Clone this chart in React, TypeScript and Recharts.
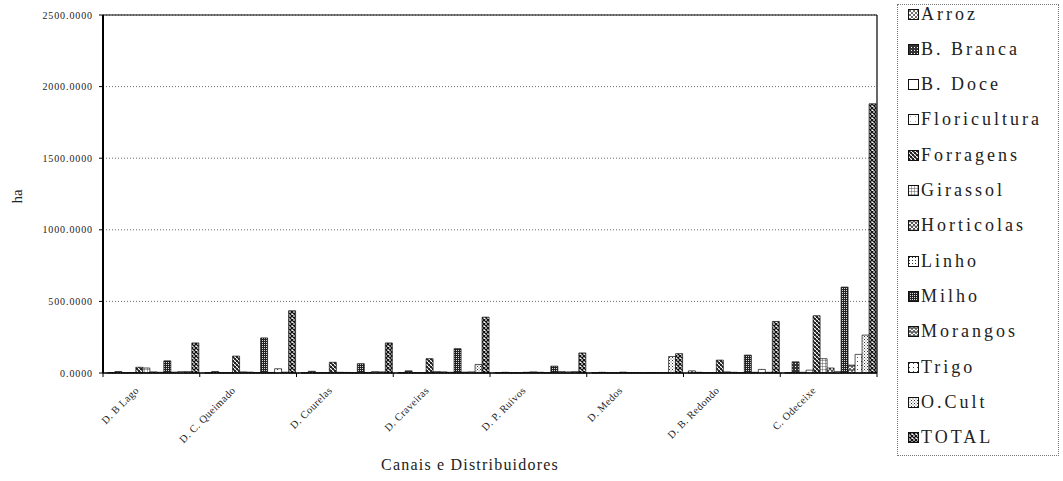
import React from 'react';
import { BarChart, Bar, XAxis, YAxis, CartesianGrid } from 'recharts';

// Canais e distribuidores (eixo X)
const categories = [
  'D. B Lago',
  'D. C. Queimado',
  'D. Courelas',
  'D. Craveiras',
  'D. P. Ruivos',
  'D. Medos',
  'D. B. Redondo',
  'C. Odeceixe',
];

// área (ha) por cultura, na ordem das categorias
const arroz = [3, 2, 2, 3, 2, 2, 15, 2];
const bBranca = [10, 10, 12, 15, 5, 5, 5, 78];
const bDoce = [2, 2, 2, 2, 2, 2, 3, 5];
const floricultura = [3, 2, 2, 2, 2, 1, 3, 20];
const forragens = [40, 118, 75, 100, 5, 6, 90, 400];
const girassol = [35, 8, 5, 10, 8, 3, 8, 100];
const horticolas = [8, 6, 4, 8, 5, 2, 5, 35];
const linho = [5, 3, 3, 5, 2, 1, 3, 10];
const milho = [85, 245, 65, 170, 48, 3, 125, 600];
const morangos = [6, 4, 3, 6, 10, 2, 5, 55];
const trigo = [10, 30, 10, 8, 8, 3, 25, 130];
const oCult = [10, 6, 8, 60, 10, 115, 5, 265];
const total = [210, 435, 210, 390, 140, 135, 360, 1880];

const seriesNames = [
  'Arroz', 'B. Branca', 'B. Doce', 'Floricultura', 'Forragens', 'Girassol',
  'Horticolas', 'Linho', 'Milho', 'Morangos', 'Trigo', 'O.Cult', 'TOTAL',
];
const seriesValues = [
  arroz, bBranca, bDoce, floricultura, forragens, girassol,
  horticolas, linho, milho, morangos, trigo, oCult, total,
];

const yTicks = [0, 500, 1000, 1500, 2000, 2500];

const data = categories.map((name, i) => {
  const row: Record<string, string | number> = { name };
  seriesValues.forEach((vals, s) => {
    row['s' + s] = vals[i];
  });
  return row;
});

const FONT = '"Liberation Serif", "DejaVu Serif", serif';
const PLOT_BOTTOM = 373;
const BAND = (877 - 103) / categories.length;

// padrões a preto e branco das barras
const PatternDefs = () => (
  <svg width={0} height={0} style={{ position: 'absolute' }}>
    <defs>
      <pattern id="pat0" width="4" height="4" patternUnits="userSpaceOnUse">
        <rect width="4" height="4" fill="#fff" />
        <path d="M0,0 L4,4 M4,0 L0,4" stroke="#333" strokeWidth="0.7" />
      </pattern>
      <pattern id="pat1" width="3" height="3" patternUnits="userSpaceOnUse">
        <rect width="3" height="3" fill="#333" />
        <rect x="0" y="0" width="1" height="1" fill="#fff" />
      </pattern>
      <pattern id="pat2" width="4" height="4" patternUnits="userSpaceOnUse">
        <rect width="4" height="4" fill="#fff" />
      </pattern>
      <pattern id="pat3" width="5" height="5" patternUnits="userSpaceOnUse">
        <rect width="5" height="5" fill="#fff" />
        <rect x="2" y="2" width="0.8" height="0.8" fill="#777" />
      </pattern>
      <pattern id="pat4" width="4" height="4" patternUnits="userSpaceOnUse">
        <rect width="4" height="4" fill="#fff" />
        <rect x="0" y="0" width="2" height="2" fill="#222" />
        <rect x="2" y="2" width="2" height="2" fill="#222" />
        <path d="M0,4 L4,0" stroke="#222" strokeWidth="0.6" />
      </pattern>
      <pattern id="pat5" width="3" height="3" patternUnits="userSpaceOnUse">
        <rect width="3" height="3" fill="#fff" />
        <path d="M0,0 H3 M0,0 V3" stroke="#333" strokeWidth="0.8" />
      </pattern>
      <pattern id="pat6" width="4" height="4" patternUnits="userSpaceOnUse">
        <rect width="4" height="4" fill="#fff" />
        <path d="M0,4 L2,0 L4,4" stroke="#222" strokeWidth="1" fill="none" />
      </pattern>
      <pattern id="pat7" width="3" height="3" patternUnits="userSpaceOnUse">
        <rect width="3" height="3" fill="#fff" />
        <rect x="1" y="1" width="1" height="1" fill="#333" />
      </pattern>
      <pattern id="pat8" width="2" height="2" patternUnits="userSpaceOnUse">
        <rect width="2" height="2" fill="#222" />
        <rect x="0" y="0" width="1" height="1" fill="#ddd" />
      </pattern>
      <pattern id="pat9" width="4" height="4" patternUnits="userSpaceOnUse">
        <rect width="4" height="4" fill="#fff" />
        <path d="M0,4 L2,0 L4,4 M0,2 H4" stroke="#222" strokeWidth="0.8" fill="none" />
      </pattern>
      <pattern id="pat10" width="4" height="4" patternUnits="userSpaceOnUse">
        <rect width="4" height="4" fill="#fff" />
        <rect x="1" y="1" width="1" height="1" fill="#444" />
      </pattern>
      <pattern id="pat11" width="3" height="3" patternUnits="userSpaceOnUse">
        <rect width="3" height="3" fill="#fff" />
        <rect x="0" y="0" width="1" height="1" fill="#333" />
        <rect x="1.5" y="1.5" width="1" height="1" fill="#666" />
      </pattern>
      <pattern id="pat12" width="4" height="4" patternUnits="userSpaceOnUse">
        <rect width="4" height="4" fill="#fff" />
        <path d="M0,0 L4,4 M4,0 L0,4" stroke="#111" strokeWidth="1.3" />
      </pattern>
    </defs>
  </svg>
);

const CategoryTick = (props: any) => {
  const { x, payload, index } = props;
  const tx = x - 12;
  const ty = PLOT_BOTTOM + 18;
  return (
    <g>
      <line x1={x - BAND / 2} y1={PLOT_BOTTOM} x2={x - BAND / 2} y2={PLOT_BOTTOM + 4} stroke="#000" />
      {index === categories.length - 1 && (
        <line x1={x + BAND / 2} y1={PLOT_BOTTOM} x2={x + BAND / 2} y2={PLOT_BOTTOM + 4} stroke="#000" />
      )}
      <text
        x={tx}
        y={ty}
        textAnchor="end"
        transform={`rotate(-45 ${tx} ${ty})`}
        fontSize={10.5}
        fontFamily={FONT}
        letterSpacing={0.4}
        fill="#222"
      >
        {payload.value}
      </text>
    </g>
  );
};

const LegendBox = () => (
  <div
    style={{
      position: 'absolute',
      left: 897,
      top: 4,
      width: 162,
      height: 452,
      border: '1px dotted #777',
      boxSizing: 'border-box',
      fontFamily: FONT,
    }}
  >
    {seriesNames.map((name, i) => (
      <div
        key={name}
        style={{
          position: 'absolute',
          left: 10,
          top: 13 + i * 35.33 - 4 - 11,
          height: 22,
          display: 'flex',
          alignItems: 'center',
          whiteSpace: 'nowrap',
        }}
      >
        <svg width={11} height={11} style={{ marginRight: 2 }}>
          <rect x={0.5} y={0.5} width={10} height={10} fill={`url(#pat${i})`} stroke="#111" />
        </svg>
        <span style={{ fontSize: 18, letterSpacing: 3, color: '#222' }}>{name}</span>
      </div>
    ))}
  </div>
);

const App = () => {
  return (
    <div style={{ position: 'absolute', left: 0, top: 0, width: 1063, height: 481, background: '#fff', fontFamily: FONT }}>
      <PatternDefs />
      <BarChart
        width={1063}
        height={481}
        data={data}
        margin={{ top: 15, right: 186, bottom: 48, left: 0 }}
        barCategoryGap="5%"
        barGap={0}
      >
        <CartesianGrid vertical={false} stroke="#444" strokeDasharray="1 2" strokeWidth={0.8} />
        <CartesianGrid horizontalPoints={[15]} verticalPoints={[877]} stroke="#000" strokeWidth={1.2} />
        <XAxis
          dataKey="name"
          height={60}
          interval={0}
          tickLine={false}
          axisLine={{ stroke: '#000', strokeWidth: 1.5 }}
          tick={<CategoryTick />}
        />
        <YAxis
          width={103}
          domain={[0, 2500]}
          ticks={yTicks}
          tickFormatter={(v: number) => v.toFixed(4)}
          tick={{ fontSize: 10, fontFamily: FONT, fill: '#222', letterSpacing: 0.9 }}
          tickSize={4}
          tickMargin={6}
          tickLine={{ stroke: '#000' }}
          axisLine={{ stroke: '#000', strokeWidth: 2 }}
        />
        {seriesNames.map((name, i) => (
          <Bar
            key={name}
            dataKey={'s' + i}
            name={name}
            fill={`url(#pat${i})`}
            stroke="#111"
            strokeWidth={0.7}
            isAnimationActive={false}
          />
        ))}
      </BarChart>
      <div
        style={{
          position: 'absolute',
          left: 2,
          top: 188,
          width: 30,
          textAlign: 'center',
          transform: 'rotate(-90deg)',
          fontSize: 15,
          color: '#222',
        }}
      >
        ha
      </div>
      <div
        style={{
          position: 'absolute',
          left: 320,
          top: 456,
          width: 300,
          textAlign: 'center',
          fontSize: 16,
          letterSpacing: 1.2,
          color: '#222',
        }}
      >
        Canais e Distribuidores
      </div>
      <LegendBox />
    </div>
  );
};

export default App;
